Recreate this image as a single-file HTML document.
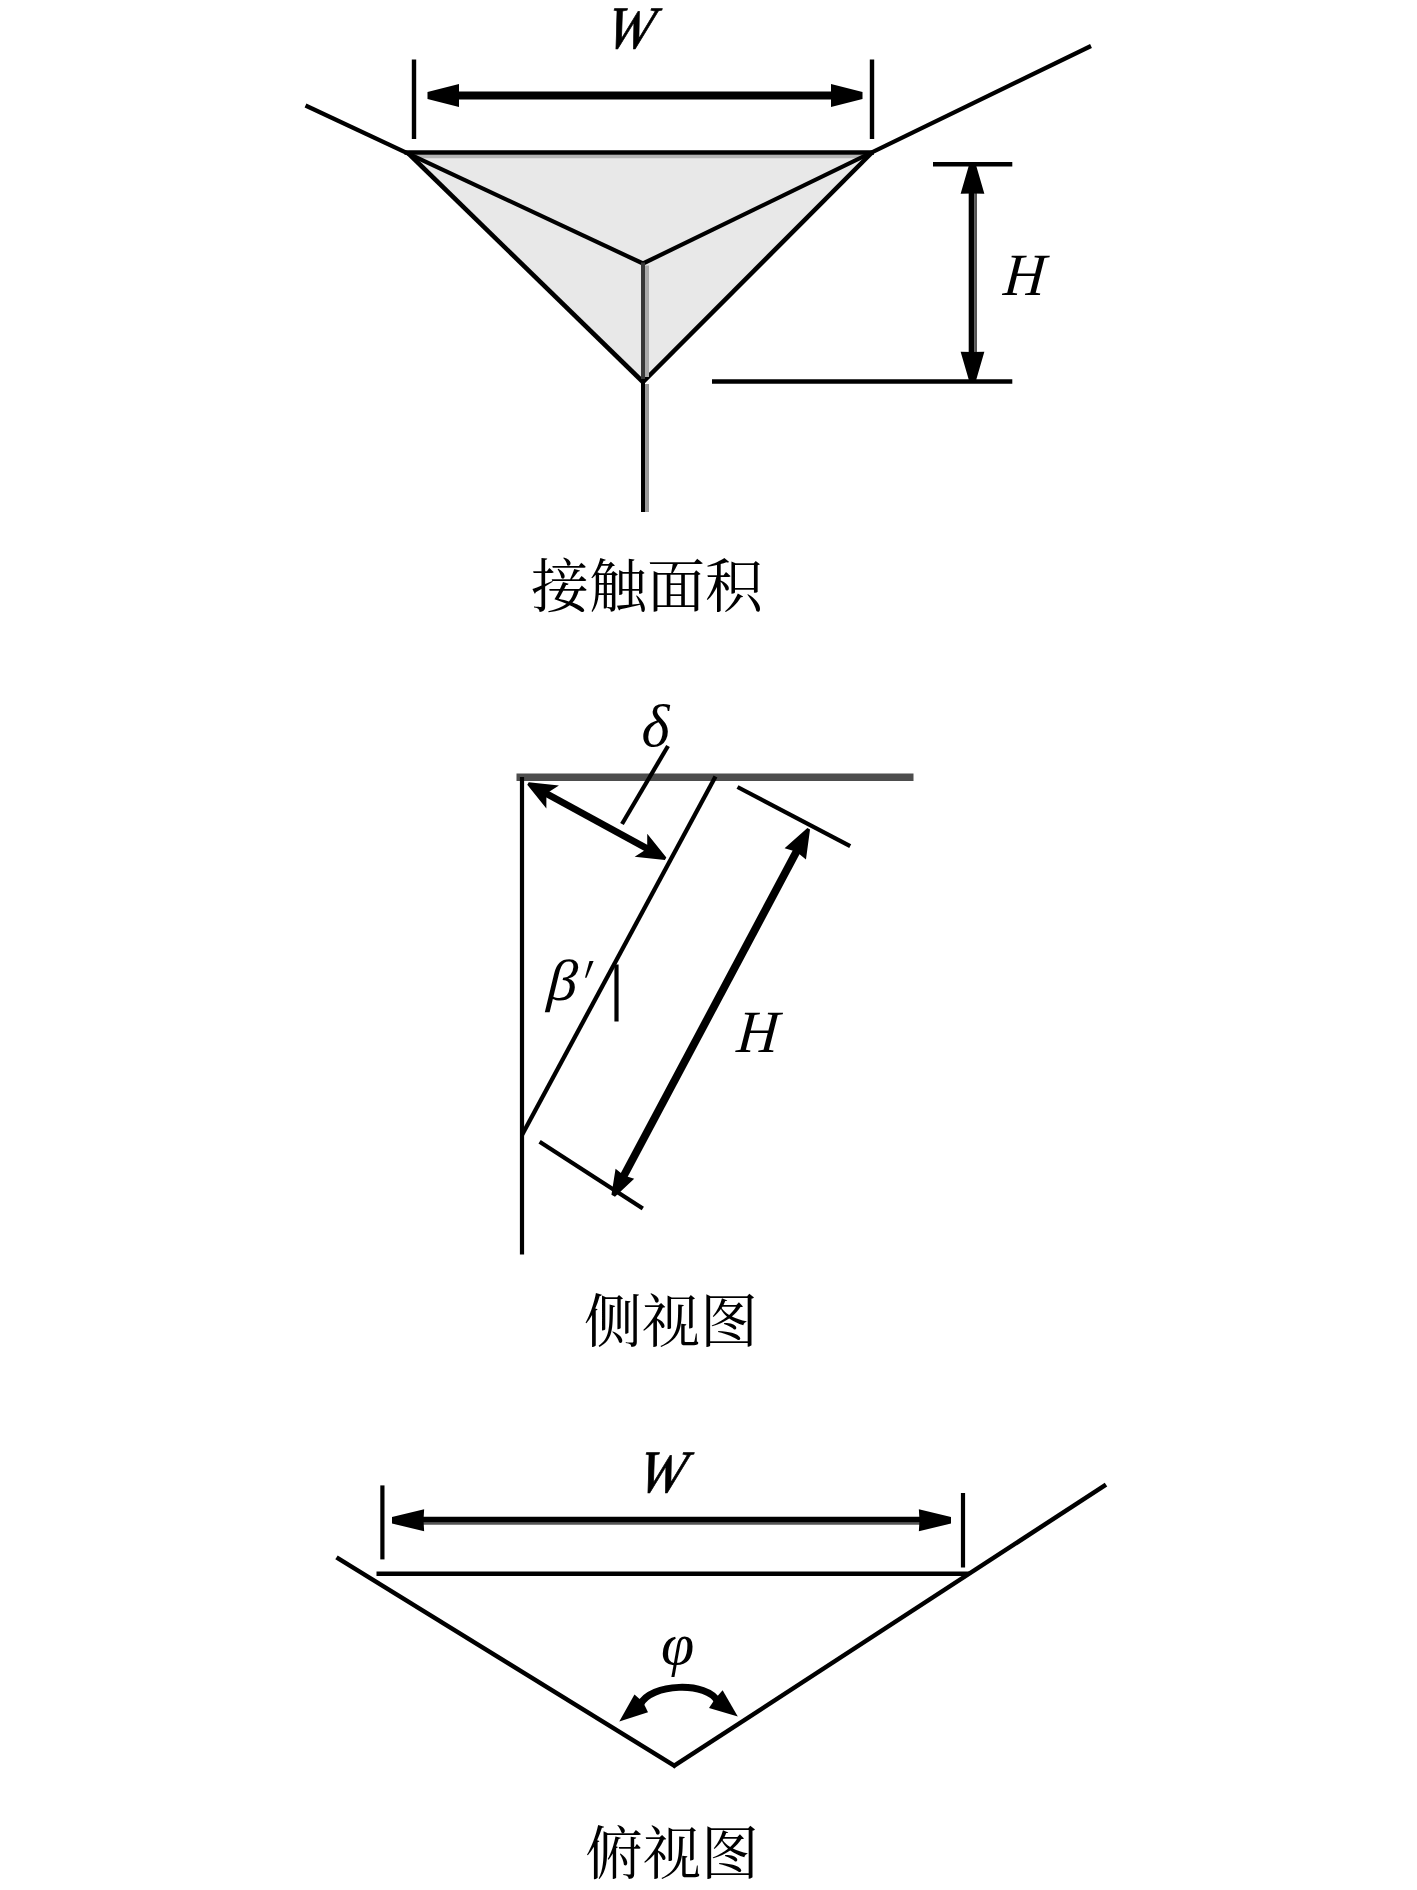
<!DOCTYPE html>
<html lang="zh">
<head>
<meta charset="utf-8">
<title>接触面积 侧视图 俯视图</title>
<style>
html,body{margin:0;padding:0;background:#fff;}
body{width:1417px;height:1890px;overflow:hidden;}
svg{display:block;}
.it{font-family:"Liberation Serif","DejaVu Serif",serif;font-style:italic;font-size:60px;fill:#000;}
.cn{font-family:"Liberation Serif","Noto Serif CJK SC",serif;font-size:58px;fill:#000;}
</style>
</head>
<body>
<svg width="1417" height="1890" viewBox="0 0 1417 1890">
<rect width="1417" height="1890" fill="#fff"/>

<!-- ===== Figure 1 : contact area ===== -->
<g id="fig1" stroke="#000" fill="none" stroke-linecap="butt">
<polygon points="407.5,152.5 872,152.5 643,382" fill="#e8e8e8" stroke="none"/>
<line x1="415.5" y1="156.5" x2="864" y2="156.5" stroke-width="3.4" stroke="#b4b4b4"/>
<line x1="305.5" y1="105.5" x2="643" y2="263.5" stroke-width="4.2"/>
<line x1="1091" y1="46" x2="643" y2="263.5" stroke-width="4.2"/>
<line x1="404.5" y1="152.5" x2="874" y2="152.5" stroke-width="4.6"/>
<line x1="407.5" y1="152.5" x2="643" y2="382" stroke-width="4.6"/>
<line x1="872" y1="152.5" x2="643" y2="382" stroke-width="4.6"/>
<line x1="647" y1="265.5" x2="647" y2="377" stroke-width="4" stroke="#aaa"/>
<line x1="643" y1="262.5" x2="643" y2="382" stroke-width="4" stroke="#383838"/>
<line x1="647" y1="384" x2="647" y2="512" stroke-width="4" stroke="#999"/>
<line x1="643" y1="379" x2="643" y2="512" stroke-width="4"/>
<line x1="414" y1="59.5" x2="414" y2="139" stroke-width="4.4"/>
<line x1="872" y1="59.5" x2="872" y2="139" stroke-width="4.4"/>
<line x1="440" y1="95.5" x2="850" y2="95.5" stroke-width="8"/>
<polygon points="427.5,92 458.98,84.04 459,95.5 458.98,106.96 427.5,99" fill="#000" stroke="none"/>
<polygon points="862.5,99 831.02,106.96 831,95.5 831.02,84.04 862.5,92" fill="#000" stroke="none"/>
<line x1="933" y1="164.3" x2="1012.3" y2="164.3" stroke-width="4.5"/>
<line x1="712" y1="381.5" x2="1012.3" y2="381.5" stroke-width="4.5"/>
<line x1="971.6" y1="185" x2="971.6" y2="360" stroke-width="5.8"/>
<line x1="975.7" y1="185" x2="975.7" y2="360" stroke-width="2.6" stroke="#555"/>
<polygon points="976,165 984.36,193.64 972.5,193.5 960.64,193.64 969,165" fill="#000" stroke="none"/>
<polygon points="969,380.5 960.64,351.86 972.5,352 984.36,351.86 976,380.5" fill="#000" stroke="none"/>
</g>
<text class="it" stroke="#000" stroke-width="0.7" transform="matrix(0.95 0 -0.1725 1 603.65 48)">W</text>
<text class="it" transform="matrix(0.956 0 -0.085 1 1002.55 295)">H</text>
<text class="cn" x="531" y="607">接触面积</text>

<!-- ===== Figure 2 : side view ===== -->
<g id="fig2" stroke="#000" fill="none">
<line x1="516.5" y1="777.2" x2="913.5" y2="777.2" stroke-width="7.6" stroke="#4d4d4d"/>
<line x1="522" y1="777" x2="522" y2="1254.5" stroke-width="4.2"/>
<line x1="715.5" y1="776.5" x2="522" y2="1135" stroke-width="4.3"/>
<line x1="668" y1="746" x2="622" y2="824" stroke-width="4.2"/>
<line x1="541.16" y1="790.7" x2="652.44" y2="851.6" stroke-width="6.8"/>
<polygon points="528.72,782.18 558.94,785.49 546.42,793.58 546.36,808.48 527.28,784.82" fill="#000" stroke="none"/>
<polygon points="664.88,860.12 634.66,856.81 647.18,848.72 647.24,833.82 666.32,857.48" fill="#000" stroke="none"/>
<line x1="737.5" y1="787" x2="850.2" y2="846.2" stroke-width="4.2"/>
<line x1="539.6" y1="1141.8" x2="642.8" y2="1208.4" stroke-width="4.2"/>
<line x1="801.65" y1="841.94" x2="617.9" y2="1186.87" stroke-width="7.8"/>
<polygon points="810.02,829.41 805.97,859.58 796.48,851.65 784.59,848.19 807.38,827.99" fill="#000" stroke="none"/>
<polygon points="611.43,1194.76 615.57,1168.8 624.01,1175.4 634.2,1178.72 614.97,1196.64" fill="#000" stroke="none"/>
<line x1="616.5" y1="964.5" x2="616.5" y2="1021.5" stroke-width="4.2"/>
</g>
<text class="it" x="641.5" y="746">δ</text>
<text class="it" transform="matrix(1 0 -0.057 0.965 546.5 1000.3)">β</text>
<text class="it" style="font-size:72px" transform="matrix(0.6 0 -0.204 1 573.9 1008)">′</text>
<text class="it" transform="matrix(0.956 0 -0.085 1 735.75 1052)">H</text>
<text class="cn" x="584" y="1342">侧视图</text>

<!-- ===== Figure 3 : top view ===== -->
<g id="fig3" stroke="#000" fill="none">
<line x1="336.5" y1="1557.4" x2="675.8" y2="1766.6" stroke-width="4.5"/>
<line x1="1106" y1="1484.6" x2="672.8" y2="1766.7" stroke-width="4.5"/>
<line x1="376.5" y1="1573.7" x2="969" y2="1573.7" stroke-width="4.6"/>
<line x1="382.4" y1="1485.4" x2="382.4" y2="1559.4" stroke-width="4.2"/>
<line x1="963" y1="1493" x2="963" y2="1567.5" stroke-width="4.2"/>
<line x1="405" y1="1519.8" x2="937" y2="1519.8" stroke-width="6"/>
<line x1="405" y1="1523.6" x2="937" y2="1523.6" stroke-width="2.2" stroke="#555"/>
<polygon points="392,1517.1 424.15,1509.23 423.5,1520.3 424.15,1531.37 392,1523.5" fill="#000" stroke="none"/>
<polygon points="951,1523.5 918.85,1531.37 919.5,1520.3 918.85,1509.23 951,1517.1" fill="#000" stroke="none"/>
<path d="M640,1705 C650,1683 708,1681 718,1702" stroke-width="7"/>
<polygon points="619.3,1721.6 634.5,1694.5 643,1702 648,1712.3" fill="#000" stroke="none"/>
<polygon points="737.8,1716.5 722.6,1690.3 715,1699 709,1708" fill="#000" stroke="none"/>
</g>
<text class="it" stroke="#000" stroke-width="0.7" transform="matrix(0.95 0 -0.1725 1 635.85 1492)">W</text>
<text class="it" x="661" y="1664">φ</text>
<text class="cn" x="585" y="1874">俯视图</text>
</svg>
</body>
</html>
